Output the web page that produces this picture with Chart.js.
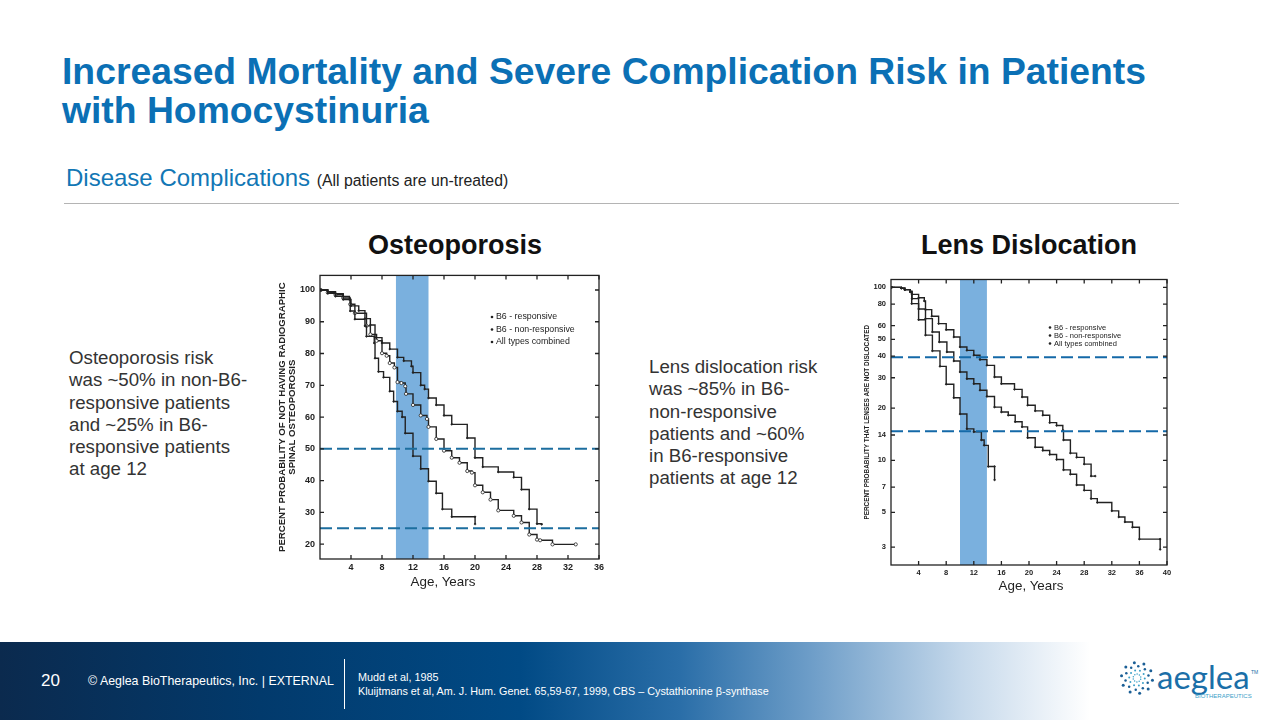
<!DOCTYPE html>
<html>
<head>
<meta charset="utf-8">
<title>Homocystinuria complications</title>
<script src="https://cdn.jsdelivr.net/npm/chart.js@4"></script>
<style>
    html, body { margin: 0; padding: 0; background: #fff; }
    body { width: 1280px; height: 720px; position: relative; overflow: hidden; font-family: "Liberation Sans", Arial, sans-serif; }
    .abs { position: absolute; white-space: nowrap; }
    canvas { position: absolute; }
    .title { left: 62px; top: 52px; font-size: 37.3px; line-height: 39px; font-weight: bold; color: #0b70b5; }
    .sub { left: 66px; top: 164px; font-size: 24px; color: #1277b5; }
    .sub span { font-size: 15.8px; color: #222; }
    .rule { left: 64px; top: 203px; width: 1115px; height: 1px; background: #b4b4b4; }
    .heading { top: 230px; font-size: 27px; font-weight: bold; color: #111; transform: translateX(-50%); }
    .note { font-size: 18.7px; line-height: 22.3px; color: #333; }
    .age { font-size: 13.4px; color: #222; transform: translateX(-50%); }
    .footer { left: 0; top: 642px; width: 1280px; height: 78px; background: linear-gradient(90deg, #0b2a4e 0, #023a6c 260px, #014a85 520px, #2a6ea8 680px, #6d9dc8 810px, #c3d7ea 960px, #fff 1090px); }
    .foot { color: #fff; }
    .logo { left: 1157px; top: 656px; font-family: Lato, sans-serif; font-size: 33px; color: #1b6fa8; }
</style>
</head>
<body>
<div class="abs title">Increased Mortality and Severe Complication Risk in Patients<br>with Homocystinuria</div>
<div class="abs sub">Disease Complications <span>(All patients are un-treated)</span></div>
<div class="abs rule"></div>
<div class="abs heading" style="left:455px">Osteoporosis</div>
<div class="abs heading" style="left:1029px">Lens Dislocation</div>
<div class="abs note" style="left:69px;top:347px">Osteoporosis risk<br>was ~50% in non-B6-<br>responsive patients<br>and ~25% in B6-<br>responsive patients<br>at age 12</div>
<div class="abs note" style="left:649px;top:356px">Lens dislocation risk<br>was ~85% in B6-<br>non-responsive<br>patients and ~60%<br>in B6-responsive<br>patients at age 12</div>

<canvas id="osteoChart" width="340" height="330" style="left:270px;top:265px"></canvas>
<canvas id="lensChart" width="330" height="325" style="left:855px;top:270px"></canvas>
<div class="abs age" style="left:443px;top:574px">Age, Years</div>
<div class="abs age" style="left:1031px;top:578px">Age, Years</div>

<div class="abs footer"></div>
<div class="abs foot" style="left:41px;top:671px;font-size:17px">20</div>
<div class="abs foot" style="left:88px;top:674px;font-size:12.4px">© Aeglea BioTherapeutics, Inc.  |  EXTERNAL</div>
<div class="abs" style="left:344px;top:659px;width:1px;height:50px;background:#fff"></div>
<div class="abs foot" style="left:358px;top:670px;font-size:10.8px;line-height:14px">Mudd et al, 1985<br>Kluijtmans et al, Am. J. Hum. Genet. 65,59-67, 1999, CBS – Cystathionine β-synthase</div>

<svg class="abs" id="logoDots" style="left:1117px;top:658px" width="40" height="40"></svg>
<div class="abs logo">aeglea</div>
<div class="abs" style="left:1251px;top:669px;font-size:5px;color:#1b6fa8">TM</div>
<div class="abs" style="left:1195px;top:693px;font-size:6px;color:#3ba0c8">BIOTHERAPEUTICS</div>

<script>
const legendLabels = ["B6 - responsive", "B6 - non-responsive", "All types combined"]

// osteoporosis panel
const osteoXTicks = [4, 8, 12, 16, 20, 24, 28, 32, 36]
const osteoYTicks = [100, 90, 80, 70, 60, 50, 40, 30, 20]
const osteoBand = [9.8, 14]
const osteoRefLines = [50, 25]

const osteoRespAges = [0.1, 1, 2, 3, 3.8, 4, 5, 5.8, 6.5, 7.1, 8, 9, 10, 10.8, 11.8, 12, 13, 13.5, 14, 15, 16, 17, 19, 20, 21, 23, 25, 26, 27, 28, 28.6]
const osteoRespPct = [100, 99.5, 98.8, 98, 97, 95, 93.5, 91, 89, 85, 83.3, 81.4, 78.8, 77.7, 76, 74, 70, 68.8, 66, 63.8, 60.5, 57.7, 53.4, 47.2, 44.3, 42.7, 41, 37.2, 31, 26.4, 26.2]

const osteoNonAges = [0.1, 1, 2, 3, 3.9, 4.5, 5.8, 6, 7, 7.1, 7.55, 8.2, 9, 9.5, 10, 10.6, 11, 12, 13, 14, 15, 15.8, 17, 20, 20.01]
const osteoNonPct = [100, 99, 98, 97, 93.4, 90.8, 88.7, 85.4, 83.3, 78.5, 74.3, 72.5, 68.1, 64.9, 61.8, 60, 54.9, 47.7, 43.7, 39.8, 36, 31, 28.6, 28.6, 26.3]

const osteoAllAges = [0.1, 1, 2, 3, 3.9, 4.5, 6, 6.5, 7.3, 8, 8.6, 9, 9.6, 10, 10.5, 11, 11.1, 12, 13, 13.8, 14, 15, 16, 17, 18, 19, 19.6, 20, 21, 22, 23, 25, 26, 27, 28, 28.4, 30, 33]
const osteoAllPct = [100, 99.2, 98.5, 97.5, 95.5, 92.7, 88.7, 86, 84, 80.1, 79.3, 77, 75.6, 71, 70.7, 69.7, 67.3, 63.8, 60.5, 59.4, 56.9, 53.1, 49.4, 47.2, 45.6, 43, 42.5, 38.5, 36.3, 34, 30.6, 28.9, 26.8, 23, 21.4, 21.2, 19.9, 19.9]

// lens panel
const lensXTicks = [4, 8, 12, 16, 20, 24, 28, 32, 36, 40]
const lensYTicks = [100, 80, 60, 50, 40, 30, 20, 14, 10, 7, 5, 3.15] // the scan's "3" sits a bit high of true log
const lensBand = [10, 13.9]
const lensRefLines = [39.4, 14.7]

const lensRespAges = [0.1, 1.5, 2, 2.8, 3.05, 4, 4.83, 5, 5.9, 6.9, 8, 9.1, 10, 11, 12, 12.9, 13.9, 15, 16, 17.9, 19, 19.8, 20.9, 22, 23, 24, 24.9, 25, 26, 26.9, 28, 29, 29.6]
const lensRespPct = [100, 99, 97, 95, 91, 87, 83.4, 74.3, 68, 61.7, 56.9, 51.6, 45.2, 43.2, 40.5, 38.2, 35.4, 30.3, 27.7, 25.7, 23.2, 20.8, 19.3, 18.2, 16.5, 15.9, 14.9, 13.1, 11, 10.4, 9.5, 8.1, 8.1]

const lensNonAges = [0.1, 1.5, 2, 2.8, 3, 4, 5, 6, 7.1, 8, 9.1, 10, 11, 12, 13.1, 13.5, 14.1, 15, 15.01]
const lensNonPct = [100, 99, 97, 94, 80.5, 65, 52.9, 42.9, 34.9, 27.5, 23, 18.5, 15.2, 14.6, 13.1, 12.2, 9.2, 9.2, 7.7]

const lensAllAges = [0.1, 1.5, 2, 2.8, 3.05, 4, 5, 6, 7, 8.1, 9.1, 10, 11, 12, 12.9, 13.9, 15, 16, 17, 18, 19, 19.8, 20.9, 22, 23, 24, 25, 26, 26.9, 28, 29, 29.9, 32, 33, 33.9, 35, 36, 39, 39.01]
const lensAllPct = [100, 99, 97, 94, 86, 75, 65.9, 55.2, 48.3, 42.3, 37.5, 32.4, 29.6, 27.7, 25.4, 23.4, 20.3, 19, 18.2, 16.7, 15.6, 13.5, 11.9, 11.4, 10.8, 10.1, 8.8, 8.3, 7.2, 6.7, 6, 5.7, 5.1, 4.7, 4.4, 4.1, 3.5, 3.5, 3.05]


function toPoints(xs, ys){
    return xs.map((x, i) => ({x: x, y: ys[i]}))
}

function curve(label, xs, ys, radius, fill){
    return {
        label: label,
        data: toPoints(xs, ys),
        stepped: true,
        borderColor: "#222",
        borderWidth: 1.4,
        pointRadius: radius,
        pointBorderWidth: 0.8,
        pointBorderColor: "#222",
        pointBackgroundColor: fill
    }
}

function refLine(y, xMax, color){
    return {
        data: [{x: 0, y: y}, {x: xMax, y: y}],
        borderColor: color,
        borderWidth: 2,
        borderDash: [12, 5],
        pointRadius: 0
    }
}

// blue age band, frame, inward ticks and the inset legend
const panelPlugin = {
    id: "panel",
    beforeDatasetsDraw(chart, args, opts){
        const {ctx, chartArea, scales} = chart
        const x0 = scales.x.getPixelForValue(opts.band[0])
        const x1 = scales.x.getPixelForValue(opts.band[1])
        ctx.fillStyle = "#7ab0de"
        ctx.fillRect(x0, chartArea.top, x1 - x0, chartArea.bottom - chartArea.top)
    },
    afterDatasetsDraw(chart, args, opts){
        const {ctx, chartArea, scales} = chart
        const {left, right, top, bottom} = chartArea
        ctx.save()
        ctx.strokeStyle = "#222"
        ctx.lineWidth = 1.3
        ctx.strokeRect(left, top, right - left, bottom - top)
        ctx.beginPath()
        scales.y.ticks.forEach(t => {
            const p = scales.y.getPixelForValue(t.value)
            ctx.moveTo(left, p); ctx.lineTo(left + 4, p)
            ctx.moveTo(right, p); ctx.lineTo(right - 4, p)
        })
        scales.x.ticks.forEach(t => {
            const p = scales.x.getPixelForValue(t.value)
            ctx.moveTo(p, bottom); ctx.lineTo(p, bottom - 4)
            ctx.moveTo(p, top); ctx.lineTo(p, top + 4)
        })
        ctx.stroke()

        ctx.fillStyle = "#222"
        ctx.font = opts.legendFont
        ctx.textBaseline = "middle"
        legendLabels.forEach((label, i) => {
            const y = opts.legendY + i * opts.legendGap
            ctx.beginPath()
            ctx.arc(opts.legendX - 4, y, 1.3, 0, Math.PI * 2)
            ctx.fill()
            ctx.fillText(label, opts.legendX, y)
        })
        ctx.restore()
    }
}

function makeChart(id, cfg){
    return new Chart(document.getElementById(id), {
        type: "line",
        data: {datasets: cfg.datasets},
        plugins: [panelPlugin],
        options: {
            responsive: false,
            animation: false,
            layout: {padding: cfg.padding},
            plugins: {
                legend: {display: false},
                tooltip: {enabled: false},
                panel: {band: cfg.band, legendX: cfg.legendX, legendY: cfg.legendY, legendGap: cfg.legendGap, legendFont: cfg.legendFont}
            },
            scales: {
                x: {
                    type: "linear",
                    min: 0,
                    max: cfg.xMax,
                    bounds: "data",
                    grid: {display: false, drawTicks: false},
                    border: {display: false},
                    afterBuildTicks: s => { s.ticks = cfg.xTicks.map(v => ({value: v})) },
                    afterFit: s => { s.height = cfg.xHeight },
                    ticks: {autoSkip: false, maxRotation: 0, padding: 3, color: "#222", font: cfg.tickFont, callback: v => String(v)}
                },
                y: {
                    type: cfg.yType,
                    min: cfg.yMin,
                    max: cfg.yMax,
                    bounds: "data",
                    grid: {display: false, drawTicks: false},
                    border: {display: false},
                    afterBuildTicks: s => { s.ticks = cfg.yTicks.map(v => ({value: v})) },
                    afterFit: s => { s.width = cfg.yWidth },
                    title: {display: true, text: cfg.yTitle, color: "#222", font: cfg.titleFont, padding: {top: cfg.titlePad, bottom: 0}},
                    ticks: {autoSkip: false, padding: 5, color: "#222", font: cfg.tickFont, callback: v => String(Math.round(v))}
                }
            }
        }
    })
}

makeChart("osteoChart", {
    datasets: [
        refLine(osteoRefLines[0], 36, "#1c6e9f"),
        refLine(osteoRefLines[1], 36, "#1c6e9f"),
        curve(legendLabels[0], osteoRespAges, osteoRespPct, 0.8, "#222"),
        curve(legendLabels[1], osteoNonAges, osteoNonPct, 0.8, "#222"),
        curve(legendLabels[2], osteoAllAges, osteoAllPct, 1.6, "#fff")
    ],
    band: osteoBand,
    padding: {top: 9, right: 11, left: 0, bottom: 0},
    xMax: 36,
    xTicks: osteoXTicks,
    xHeight: 36,
    yType: "linear",
    yMin: 15.3,
    yMax: 104.6,
    yTicks: osteoYTicks,
    yWidth: 50,
    yTitle: ["PERCENT PROBABILITY OF NOT HAVING RADIOGRAPHIC", "SPINAL OSTEOPOROSIS"],
    titlePad: 7,
    titleFont: {family: "Liberation Sans", size: 9.6, weight: "bold", lineHeight: "10px"},
    tickFont: {family: "Liberation Sans", size: 9, weight: "bold"},
    legendX: 226,
    legendY: 52,
    legendGap: 12.5,
    legendFont: "8.8px 'Liberation Sans'"
})

makeChart("lensChart", {
    datasets: [
        refLine(lensRefLines[0], 40, "#1469a8"),
        refLine(lensRefLines[1], 40, "#1469a8"),
        curve(legendLabels[0], lensRespAges, lensRespPct, 0.8, "#222"),
        curve(legendLabels[1], lensNonAges, lensNonPct, 0.8, "#222"),
        curve(legendLabels[2], lensAllAges, lensAllPct, 0.8, "#222")
    ],
    band: lensBand,
    padding: {top: 9, right: 18, left: 0, bottom: 0},
    xMax: 40,
    xTicks: lensXTicks,
    xHeight: 30,
    yType: "logarithmic",
    yMin: 2.48,
    yMax: 111,
    yTicks: lensYTicks,
    yWidth: 36,
    yTitle: "PERCENT PROBABILITY THAT LENSES ARE NOT DISLOCATED",
    titlePad: 8,
    titleFont: {family: "Liberation Sans", size: 6.4, weight: "bold", lineHeight: "8px"},
    tickFont: {family: "Liberation Sans", size: 7.5, weight: "bold"},
    legendX: 199,
    legendY: 57.5,
    legendGap: 8,
    legendFont: "7.5px 'Liberation Sans'"
})

// logo mark
const dots = document.getElementById("logoDots")
let dotMarkup = ""
for (let ring = 1; ring <= 4; ring++){
    for (let arm = 0; arm < 10; arm++){
        const a = arm * Math.PI / 5 + ring * 0.35
        const r = ring * 3.9
        const fill = ring > 2 ? "#1b5f96" : "#3ba0c8"
        dotMarkup += `<circle cx="${20 + r * Math.cos(a)}" cy="${20 + r * Math.sin(a)}" r="${0.5 + ring * 0.25}" fill="${fill}"/>`
    }
}
dots.innerHTML = dotMarkup
</script>
</body>
</html>
